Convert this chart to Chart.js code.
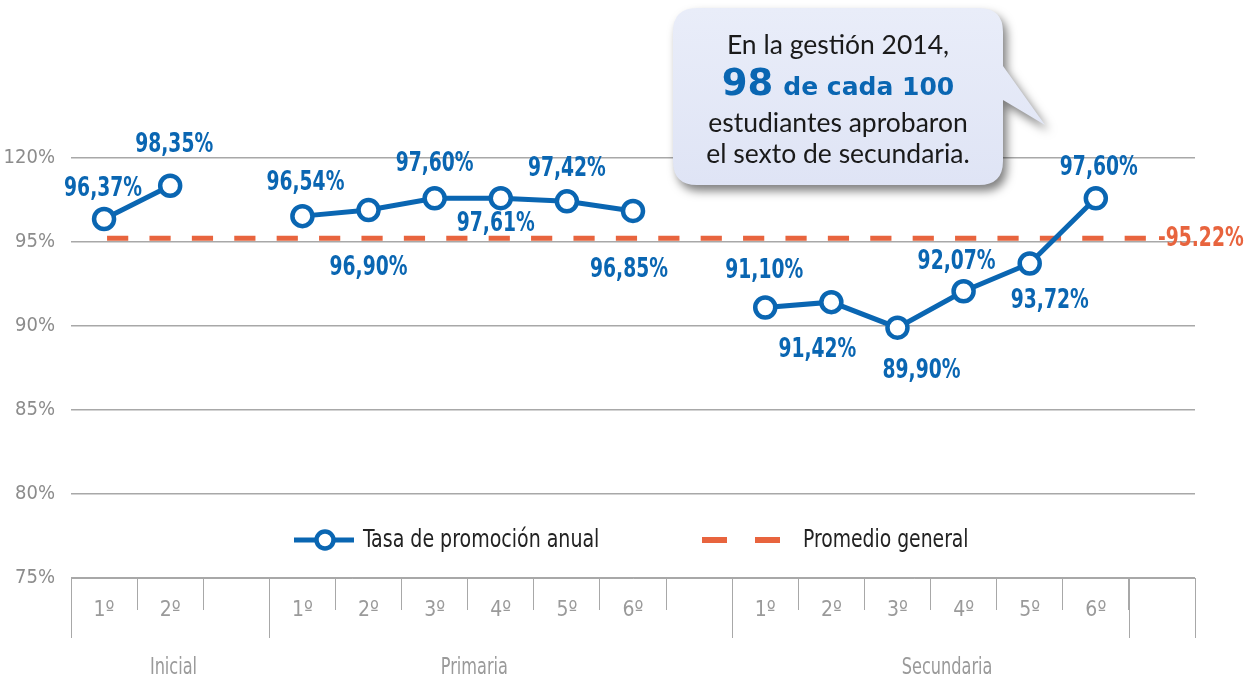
<!DOCTYPE html>
<html>
<head>
<meta charset="utf-8">
<script src="https://cdn.jsdelivr.net/npm/chart.js@4.4.1/dist/chart.umd.min.js"></script>
<style>
  body { margin: 0; background: #fff; }
  canvas { display: block; }
</style>
</head>
<body>
<canvas id="chart" width="1244" height="679"></canvas>
<script>
/* Tasa de promoción anual por grado */

const grados = ['1º', '2º', '', '1º', '2º', '3º', '4º', '5º', '6º', '', '1º', '2º', '3º', '4º', '5º', '6º', ''];
const tasaPromocion = [96.37, 98.35, null, 96.54, 96.90, 97.60, 97.61, 97.42, 96.85, null, 91.10, 91.42, 89.90, 92.07, 93.72, 97.60, null];
const promedioGeneral = [95.22, 95.22, 95.22, 95.22, 95.22, 95.22, 95.22, 95.22, 95.22, 95.22, 95.22, 95.22, 95.22, 95.22, 95.22, 95.22, 95.22];
const promedioTexto = '-95.22%';
const yTickLabels = ['75%', '80%', '85%', '90%', '95%', '120%'];
const niveles = ['Inicial', 'Primaria', 'Secundaria'];
const nivelCentro = [1.05, 5.6, 12.75];      // where each level name sits (in category units)
const separadoresLargos = [-0.5, 2.5, 9.5, 15.5, 16.5];

const BLUE = '#0a66b2';
const ORANGE = '#e8643e';
const GRID = '#a8a8a8';
const NARROW = "'DejaVu Sans Condensed', 'DejaVu Sans', sans-serif";
const ROUND = "Lato, 'Open Sans', sans-serif";
const HEAVY = "'DejaVu Sans', sans-serif";

// label offset from its point, [dx, dy]
const labelOffsets = [[-1, -30], [4, -40], null, [3, -33], [0, 58], [0, -34], [-5, 26], [0, -32], [-4, 59], null,
  [-1, -36], [-14, 48], [24, 44], [-7, -29], [20, 38], [3, -30], null];

function pct(v) {
  return v.toFixed(2).replace('.', ',') + '%';
}

// text squeezed sideways, the original face is a condensed one
function narrowText(ctx, text, x, y, squeeze) {
  ctx.save();
  ctx.translate(x, y);
  ctx.scale(squeeze, 1);
  ctx.fillText(text, 0, 0);
  ctx.restore();
}

const extras = {
  id: 'extras',
  afterDatasetsDraw(chart) {
    const ctx = chart.ctx;
    // value labels
    const meta = chart.getDatasetMeta(0);
    ctx.save();
    ctx.font = `bold 26px ${NARROW}`;
    ctx.fillStyle = BLUE;
    ctx.textAlign = 'center';
    ctx.textBaseline = 'middle';
    tasaPromocion.forEach((v, i) => {
      if (v === null) return;
      const p = meta.data[i];
      const off = labelOffsets[i];
      narrowText(ctx, pct(v), p.x + off[0], p.y + off[1], 0.8);
    });
    // average label
    const avgMeta = chart.getDatasetMeta(1);
    const last = avgMeta.data[avgMeta.data.length - 1];
    ctx.fillStyle = ORANGE;
    ctx.textAlign = 'left';
    narrowText(ctx, promedioTexto, last.x - 4, last.y + 1, 0.8);
    ctx.restore();
  },
  afterDraw(chart) {
    const ctx = chart.ctx;
    const x = chart.scales.x;
    const area = chart.chartArea;
    const step = x.getPixelForValue(1) - x.getPixelForValue(0);

    ctx.save();
    // long separators of the level boxes
    ctx.strokeStyle = GRID;
    ctx.lineWidth = 1;
    separadoresLargos.forEach(s => {
      const px = Math.round(x.getPixelForValue(0) + s * step) + 0.5;
      ctx.beginPath();
      ctx.moveTo(px, area.bottom);
      ctx.lineTo(px, area.bottom + 60);
      ctx.stroke();
    });
    // level names
    ctx.font = `23px ${NARROW}`;
    ctx.fillStyle = '#9a9a9a';
    ctx.textAlign = 'center';
    ctx.textBaseline = 'middle';
    niveles.forEach((n, i) => {
      narrowText(ctx, n, x.getPixelForValue(0) + nivelCentro[i] * step, 668, 0.78);
    });

    // legend
    const ly = 540;
    ctx.strokeStyle = BLUE;
    ctx.lineWidth = 5;
    ctx.beginPath();
    ctx.moveTo(294, ly);
    ctx.lineTo(354, ly);
    ctx.stroke();
    ctx.beginPath();
    ctx.arc(325, ly, 8.5, 0, Math.PI * 2);
    ctx.fillStyle = '#fff';
    ctx.fill();
    ctx.lineWidth = 4.5;
    ctx.stroke();
    ctx.strokeStyle = ORANGE;
    ctx.lineWidth = 6;
    ctx.beginPath();
    ctx.moveTo(702, ly); ctx.lineTo(727, ly);
    ctx.moveTo(755, ly); ctx.lineTo(780, ly);
    ctx.stroke();
    ctx.font = `24px ${NARROW}`;
    ctx.fillStyle = '#222';
    ctx.textAlign = 'left';
    narrowText(ctx, chart.data.datasets[0].label, 363, ly + 1, 0.88);
    narrowText(ctx, chart.data.datasets[1].label, 803, ly + 1, 0.87);

    // callout bubble
    const bx = 673, by = 8, bw = 330, bh = 177, r = 24;
    ctx.beginPath();
    ctx.moveTo(bx + r, by);
    ctx.lineTo(bx + bw - r, by);
    ctx.quadraticCurveTo(bx + bw, by, bx + bw, by + r);
    ctx.lineTo(bx + bw, by + 58);
    ctx.lineTo(1045, 125);
    ctx.lineTo(bx + bw, by + 92);
    ctx.lineTo(bx + bw, by + bh - r);
    ctx.quadraticCurveTo(bx + bw, by + bh, bx + bw - r, by + bh);
    ctx.lineTo(bx + r, by + bh);
    ctx.quadraticCurveTo(bx, by + bh, bx, by + bh - r);
    ctx.lineTo(bx, by + r);
    ctx.quadraticCurveTo(bx, by, bx + r, by);
    ctx.closePath();
    const grad = ctx.createLinearGradient(0, by, 0, by + bh);
    grad.addColorStop(0, '#e9edf9');
    grad.addColorStop(1, '#dfe4f5');
    ctx.fillStyle = grad;
    ctx.shadowColor = 'rgba(0,0,0,0.5)';
    ctx.shadowBlur = 10;
    ctx.shadowOffsetX = 4;
    ctx.shadowOffsetY = 6;
    ctx.fill();
    ctx.shadowColor = 'transparent';

    const cx = bx + bw / 2;
    ctx.textAlign = 'center';
    ctx.textBaseline = 'alphabetic';
    ctx.fillStyle = '#1a1a1a';
    ctx.font = `26.5px ${ROUND}`;
    ctx.fillText('En la gestión 2014,', cx, 54);
    // mixed line
    const big = `bold 37px ${HEAVY}`;
    const mid = `bold 25px ${HEAVY}`;
    ctx.font = big;
    const w1 = ctx.measureText('98').width + 10;
    ctx.font = mid;
    const w2 = ctx.measureText('de cada 100').width;
    const sx = cx - (w1 + w2) / 2;
    ctx.textAlign = 'left';
    ctx.fillStyle = BLUE;
    ctx.font = big;
    ctx.fillText('98', sx, 95);
    ctx.font = mid;
    ctx.fillText('de cada 100', sx + w1, 95);
    ctx.textAlign = 'center';
    ctx.fillStyle = '#1a1a1a';
    ctx.font = `26.5px ${ROUND}`;
    ctx.fillText('estudiantes aprobaron', cx, 132);
    ctx.fillText('el sexto de secundaria.', cx, 163);
    ctx.restore();
  }
};

new Chart(document.getElementById('chart'), {
  type: 'line',
  data: {
    labels: grados,
    datasets: [{
      label: 'Tasa de promoción anual',
      data: tasaPromocion,
      borderColor: BLUE,
      borderWidth: 5,
      pointRadius: 10,
      pointBorderWidth: 4.5,
      pointBackgroundColor: '#fff',
      pointBorderColor: BLUE,
      spanGaps: false,
      tension: 0,
      clip: false,
      order: 1
    }, {
      label: 'Promedio general',
      data: promedioGeneral,
      borderColor: ORANGE,
      borderWidth: 5,
      borderDash: [21.2, 21.2],
      borderDashOffset: -3,
      pointRadius: 0,
      tension: 0,
      clip: false,
      order: 2
    }]
  },
  options: {
    responsive: false,
    animation: false,
    layout: {
      padding: { top: 158, right: 49, left: 0, bottom: 0 }
    },
    plugins: {
      legend: { display: false },
      tooltip: { enabled: false }
    },
    scales: {
      x: {
        offset: true,
        afterFit(scale) { scale.height = 101; },
        grid: {
          offset: true,
          drawOnChartArea: false,
          drawTicks: true,
          tickLength: 32,
          tickColor: GRID,
          color: GRID
        },
        border: { display: true, color: GRID },
        ticks: {
          padding: -12,
          color: '#9a9a9a',
          font: { family: NARROW, size: 21 },
          maxRotation: 0,
          autoSkip: false
        }
      },
      y: {
        min: 75,
        max: 100,
        afterFit(scale) { scale.width = 71; },
        border: { display: false },
        grid: {
          color: GRID,
          lineWidth: 1.5,
          drawTicks: false
        },
        ticks: {
          stepSize: 5,
          padding: 16,
          color: '#8c8c8c',
          font: { family: NARROW, size: 20 },
          callback: (value, index) => yTickLabels[index]
        }
      }
    }
  },
  plugins: [extras]
});
</script>
</body>
</html>
